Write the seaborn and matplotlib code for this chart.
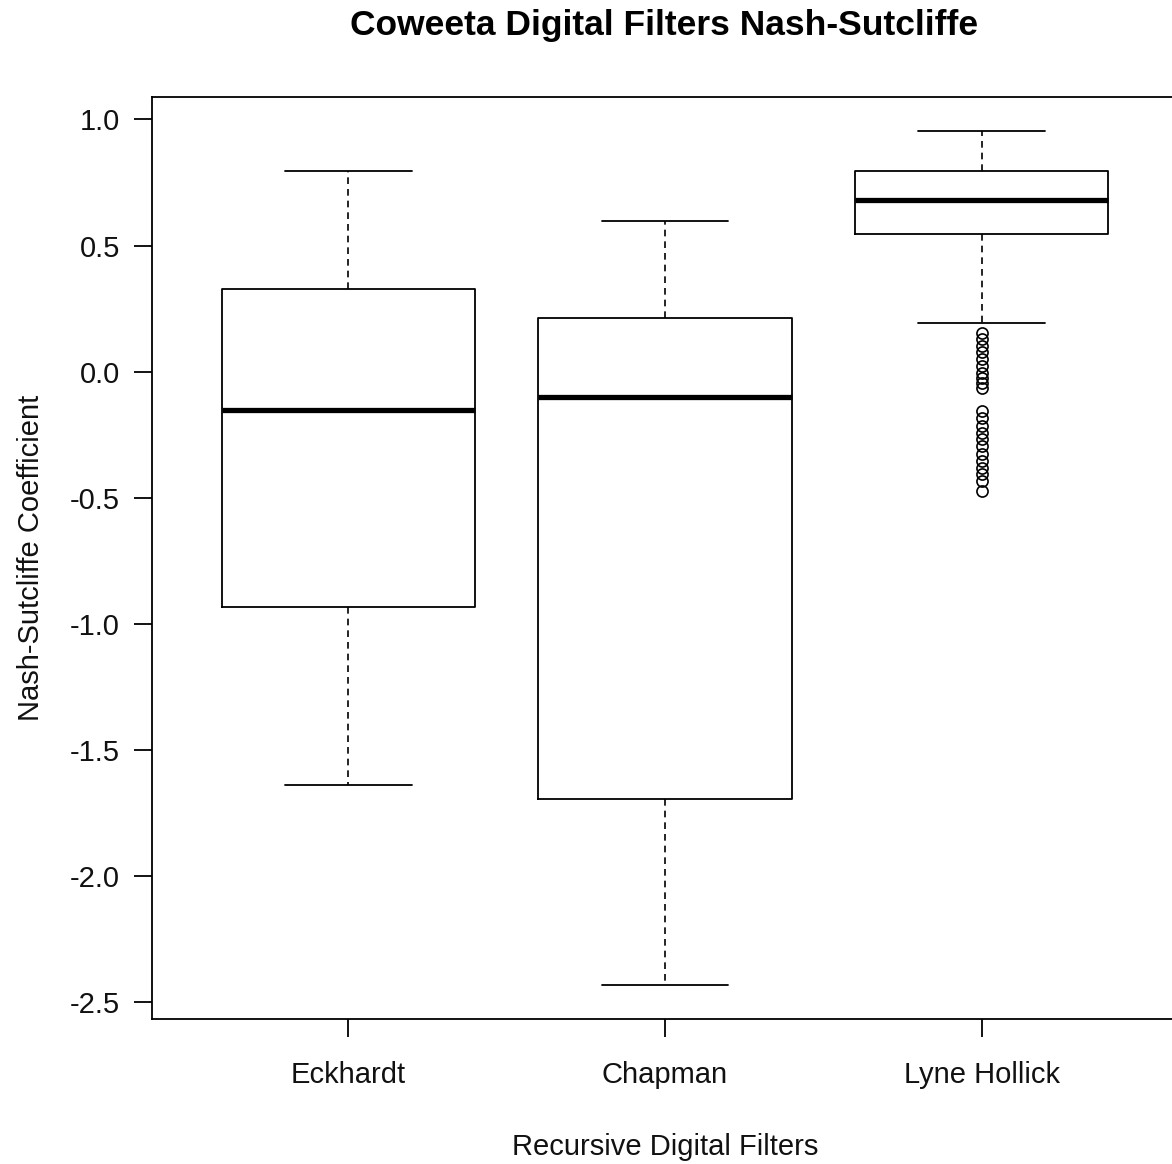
import matplotlib
matplotlib.use("Agg")
import matplotlib.pyplot as plt
import seaborn as sns

# Five-number summaries for each recursive digital filter (Nash-Sutcliffe efficiency)
filters = ["Eckhardt", "Chapman", "Lyne Hollick"]
whisker_low = [-1.641, -2.432, 0.191]
q1 = [-0.934, -1.693, 0.545]
median = [-0.151, -0.099, 0.680]
q3 = [0.326, 0.211, 0.795]
whisker_high = [0.795, 0.596, 0.954]
# Outlying values beyond the lower whisker (Lyne Hollick only)
outliers_lyne = [0.155, 0.131, 0.103, 0.076, 0.052, 0.024, -0.004, -0.024,
                 -0.044, -0.064, -0.155, -0.183, -0.215, -0.242, -0.266,
                 -0.294, -0.326, -0.354, -0.382, -0.405, -0.433, -0.473]
outliers = [[], [], outliers_lyne]

yticks = [1.0, 0.5, 0.0, -0.5, -1.0, -1.5, -2.0, -2.5]

sns.set_style("white")
plt.rcParams["font.family"] = ["Liberation Sans", "DejaVu Sans"]

fig = plt.figure(figsize=(11.72, 11.64), dpi=100)
ax = fig.add_axes([152 / 1172, 1 - 1019 / 1164, (1178 - 152) / 1172, (1019 - 97) / 1164])

stats = []
for i, name in enumerate(filters):
    stats.append(dict(label=name, med=median[i], q1=q1[i], q3=q3[i],
                      whislo=whisker_low[i], whishi=whisker_high[i],
                      fliers=outliers[i]))

ax.bxp(stats, positions=[1, 2, 3], widths=0.8, showfliers=True,
       boxprops=dict(color="black", linewidth=1.3),
       medianprops=dict(color="black", linewidth=3.8, solid_capstyle="butt"),
       whiskerprops=dict(color="black", linewidth=1.2, linestyle=(0, (4, 3))),
       capprops=dict(color="black", linewidth=1.3),
       capwidths=0.4,
       flierprops=dict(marker="o", markersize=8, markerfacecolor="none",
                       markeredgecolor="black", markeredgewidth=1.2))

ax.set_xlim(0.38, 3.62)
ax.set_ylim(-2.567, 1.089)
ax.set_yticks(yticks)
ax.set_yticklabels([f"{v:.1f}" for v in yticks])
ax.set_xticks([1, 2, 3])
ax.set_xticklabels(filters)

for s in ax.spines.values():
    s.set_color("black")
    s.set_linewidth(1.3)

ax.tick_params(axis="both", which="both", direction="out", length=13, width=1.3,
               color="black", labelsize=21, labelcolor="#111111")
ax.tick_params(axis="y", pad=10, left=True)
ax.tick_params(axis="x", pad=17, bottom=True)

ax.set_xlabel("Recursive Digital Filters", fontsize=21, color="#111111", labelpad=32)
ax.set_ylabel("Nash-Sutcliffe Coefficient", fontsize=21, color="#111111", labelpad=18)
fig.text(664 / 1172, 1 - 25 / 1164, "Coweeta Digital Filters Nash-Sutcliffe",
         ha="center", va="center", fontsize=25.5, fontweight="bold", color="black")

fig.savefig("out.png", dpi=100)
